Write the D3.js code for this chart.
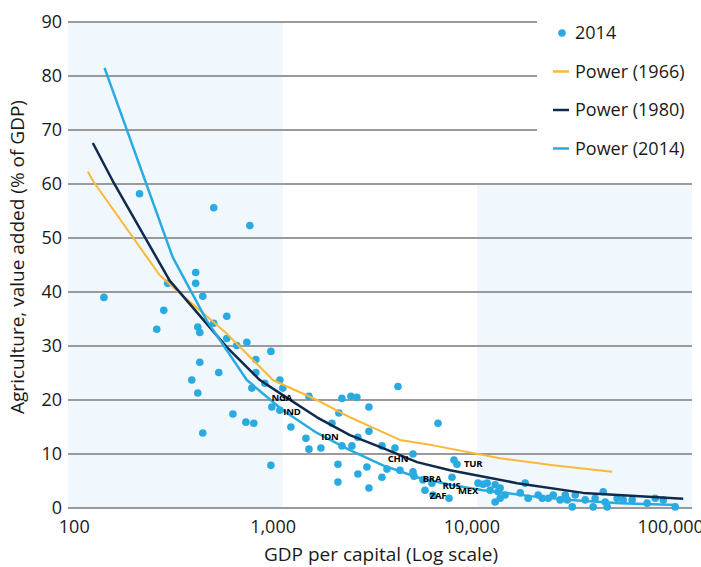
<!DOCTYPE html>
<html>
<head>
<meta charset="utf-8">
<script src="https://cdn.jsdelivr.net/npm/d3@7"></script>
<style>
  body { margin: 0; background: #fff; }
  text { font-family: "Open Sans", "Noto Sans", sans-serif; fill: #1a1a1a; }
</style>
</head>
<body>
<script>
var width = 701;
var height = 567;
var margin = {top: 22, right: 9, bottom: 59, left: 68};

// tick values
var yTicks = [0, 10, 20, 30, 40, 50, 60, 70, 80, 90];
var xTicks = [100, 1000, 10000, 100000];

// income bands (GDP per capita) and their tops (% of GDP)
var lowBand = [93, 1120];
var highBand = [10620, 128000];
var bandTops = [90, 60];

// 2014 observations: GDP per capita, agriculture % of GDP
var gdp2014 = [141, 213, 260, 282, 295, 408, 408, 443, 418, 428, 503, 764, 503, 585, 585, 657, 738, 975, 819, 428,
  819, 533, 390, 1082, 418, 443, 628, 800, 730, 782, 909, 1120, 986, 1082, 975, 1229, 1515, 2220, 2464, 2640,
  2143, 1978, 3035, 4249, 1463, 1515, 1740, 2220, 2492, 2671, 3035, 3529, 4102, 5055, 6755, 2120, 2120, 2671, 2965, 3035,
  3529, 3741, 4346, 5055, 5117, 5675, 5808, 6296, 6376, 7674, 7943, 8128, 8414, 10740, 11380, 11930, 13090, 13550, 13090, 13870,
  13870, 17500, 18540, 19190, 21560, 22590, 24210, 25650, 29500, 30180, 31980, 33110, 40740, 41690, 45780, 46840, 47930, 53780, 57650, 63990,
  76170, 83550, 105400, 12350, 14690, 27800, 37150, 91800];
var agri2014 = [39.0, 58.2, 33.1, 36.6, 41.6, 43.6, 41.6, 39.2, 33.5, 32.5, 55.6, 52.3, 34.2, 35.5, 31.4, 30.1, 30.7, 29.0, 27.5, 27.0,
  25.1, 25.1, 23.7, 23.7, 21.3, 13.9, 17.4, 15.7, 15.9, 22.2, 23.1, 22.2, 18.7, 18.1, 7.9, 15.0, 20.7, 20.3, 20.7, 20.5,
  17.6, 15.7, 18.7, 22.5, 12.9, 10.9, 11.1, 11.5, 11.5, 13.1, 14.2, 11.5, 11.1, 10.0, 15.7, 8.1, 4.8, 6.3, 7.6, 3.7,
  5.7, 7.2, 7.0, 6.7, 5.9, 5.2, 3.3, 4.6, 2.4, 1.8, 5.7, 8.9, 8.1, 4.6, 4.4, 4.6, 4.3, 3.0, 1.1, 3.7,
  1.8, 2.8, 4.6, 1.8, 2.4, 1.8, 1.8, 2.4, 2.4, 1.5, 0.2, 2.4, 0.2, 1.8, 3.0, 1.1, 0.2, 1.8, 1.5, 1.5,
  0.9, 1.8, 0.2, 3.3, 2.4, 1.5, 1.5, 1.5];

// power trend lines
var fit1966Gdp = [117, 124, 269, 328, 585, 998, 1662, 2435, 4346, 6376, 13870, 25650, 50760];
var fit1966Val = [62.3, 60.6, 43.1, 40.3, 32.3, 23.7, 20.0, 16.8, 12.6, 11.6, 9.2, 7.9, 6.7];
var fit1980Gdp = [124, 156, 302, 585, 858, 1120, 1662, 2435, 3570, 5297, 7762, 16900, 36310, 115600];
var fit1980Val = [67.6, 60.6, 42.1, 29.8, 23.7, 20.9, 16.8, 13.5, 11.1, 8.5, 7.0, 4.6, 2.8, 1.7];
var fit2014Gdp = [142, 313, 464, 738, 1120, 1662, 2435, 3570, 5297, 7762, 11380, 19640, 31250, 55700, 107900];
var fit2014Val = [81.5, 46.4, 34.7, 23.7, 18.1, 13.9, 10.7, 7.9, 5.7, 4.3, 3.3, 2.2, 1.5, 0.9, 0.55];

// country labels
var countries = ["NGA", "IND", "IDN", "CHN", "BRA", "RUS", "MEX", "ZAF", "TUR"];
var countryGdp = [1107, 1244, 1932, 4249, 6300, 7900, 9572, 6755, 10140];
var countryVal = [20.5, 17.9, 13.3, 9.2, 5.5, 4.2, 3.3, 2.3, 8.3];

var legendNames = ["2014", "Power (1966)", "Power (1980)", "Power (2014)"];

var blue = "#29abe2";
var navy = "#0f2a4d";
var yellow = "#fbb838";

var svg = d3.select("body").append("svg")
    .attr("width", width)
    .attr("height", height);

var x = d3.scaleLog()
    .domain([93, 128000])
    .range([margin.left, width - margin.right]);

var y = d3.scaleLinear()
    .domain([0, 90])
    .range([height - margin.bottom, margin.top]);

// shaded income bands
[lowBand, highBand].forEach(function(b, i) {
  svg.append("rect")
      .attr("x", x(b[0]))
      .attr("y", y(bandTops[i]))
      .attr("width", x(b[1]) - x(b[0]))
      .attr("height", y(0) - y(bandTops[i]))
      .style("fill", "#f1f8fd");
});

// gridlines (the ones above 60 stop at the legend)
svg.append("g").selectAll("line")
    .data(yTicks)
  .enter().append("line")
    .attr("x1", x(93))
    .attr("x2", function(d) { return d > 60 ? 537 : x(128000); })
    .attr("y1", function(d) { return y(d); })
    .attr("y2", function(d) { return y(d); })
    .style("stroke", "#9a9a9a")
    .style("stroke-width", 2);

// y tick labels
svg.append("g").selectAll("text")
    .data(yTicks)
  .enter().append("text")
    .attr("x", 62)
    .attr("y", function(d) { return y(d); })
    .attr("dy", "0.35em")
    .style("text-anchor", "end")
    .style("font-size", "18px")
    .text(function(d) { return d; });

// x tick labels (the last one runs off the right edge, as in the original)
svg.append("g").selectAll("text")
    .data(xTicks)
  .enter().append("text")
    .attr("x", function(d) { return x(d); })
    .attr("y", 533)
    .style("text-anchor", "middle")
    .style("font-size", "18px")
    .text(function(d) { return d3.format(",")(d); });

// axis titles
svg.append("text")
    .attr("x", 381)
    .attr("y", 561)
    .style("text-anchor", "middle")
    .style("font-size", "19px")
    .text("GDP per capital (Log scale)");

svg.append("text")
    .attr("transform", "translate(24," + 257 + ") rotate(-90)")
    .style("text-anchor", "middle")
    .style("font-size", "19px")
    .text("Agriculture, value added (% of GDP)");

// dots
svg.append("g").selectAll("circle")
    .data(gdp2014)
  .enter().append("circle")
    .attr("cx", function(d) { return x(d); })
    .attr("cy", function(d, i) { return y(agri2014[i]); })
    .attr("r", 3.8)
    .style("fill", blue);

// trend lines
var line = d3.line()
    .x(function(d) { return x(d[0]); })
    .y(function(d) { return y(d[1]); });

function drawFit(gdps, vals, color, w) {
  svg.append("path")
      .datum(d3.zip(gdps, vals))
      .attr("d", line)
      .style("fill", "none")
      .style("stroke", color)
      .style("stroke-width", w)
      .style("stroke-linejoin", "round");
}
drawFit(fit1966Gdp, fit1966Val, yellow, 2);
drawFit(fit1980Gdp, fit1980Val, navy, 2.5);
drawFit(fit2014Gdp, fit2014Val, blue, 2.5);

// country labels
svg.append("g").selectAll("text")
    .data(countries)
  .enter().append("text")
    .attr("x", function(d, i) { return x(countryGdp[i]); })
    .attr("y", function(d, i) { return y(countryVal[i]); })
    .attr("dy", "0.35em")
    .style("text-anchor", "middle")
    .style("font-size", "9.5px")
    .style("font-weight", "bold")
    .style("letter-spacing", "-0.2px")
    .style("fill", "#000")
    .text(function(d) { return d; });

// legend
var legend = svg.append("g").selectAll("g")
    .data(legendNames)
  .enter().append("g")
    .attr("transform", function(d, i) { return "translate(553," + (33 + i * 38.5) + ")"; });

legend.each(function(d, i) {
  var g = d3.select(this);
  if (i == 0) {
    g.append("circle").attr("cx", 9).attr("cy", 0).attr("r", 3.8).style("fill", blue);
  } else {
    g.append("line")
        .attr("x1", 0).attr("x2", 16)
        .style("stroke", [null, yellow, navy, blue][i])
        .style("stroke-width", 2.5);
  }
  g.append("text")
      .attr("x", 22)
      .attr("dy", "0.35em")
      .style("font-size", "18px")
      .text(d);
});
</script>
</body>
</html>
